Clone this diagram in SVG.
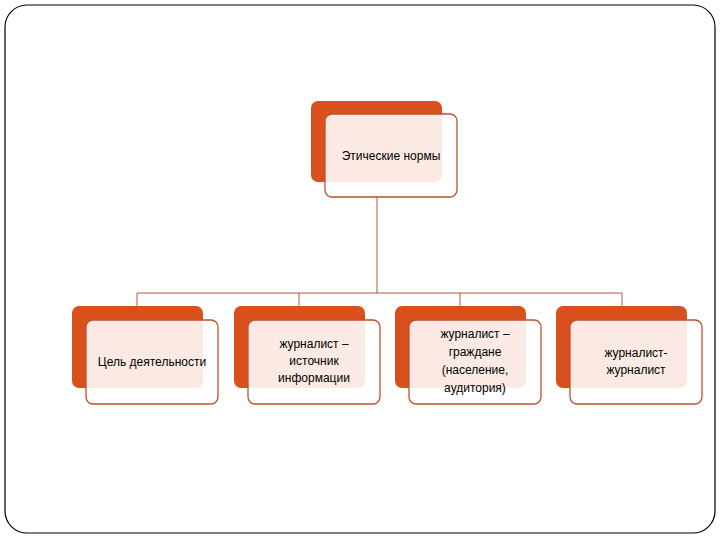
<svg xmlns="http://www.w3.org/2000/svg" width="720" height="540" viewBox="0 0 720 540">
<style>
.bg{fill:#d9501d}
.fg{fill:#fff;fill-opacity:0.88;stroke:#c0502d;stroke-width:1.3}
.fg2{fill:#fbe6de}
.t{font-family:"Liberation Sans",Arial,sans-serif;font-size:12px;fill:#000;text-anchor:middle}
.c{stroke:#b5563a;stroke-width:1;fill:none}
</style>
<rect x="5" y="5" width="710" height="528" rx="22" fill="#fff" stroke="#000" stroke-width="1.2"/>
<g id="connectors">
<path class="c" d="M377 197V293M137 293H622M137 293V306M299 293V306M460 293V306M622 293V306"/>
</g>
<g id="n0">
<rect class="bg" x="311" y="101" width="131" height="81" rx="7"/>
<rect class="fg" x="325" y="114" width="132" height="83" rx="7"/>
<text class="t" x="391" y="160">Этические нормы</text>
</g>
<g id="n1">
<rect class="bg" x="72" y="306" width="131" height="82" rx="7"/>
<rect class="fg" x="86" y="320" width="132" height="84" rx="7"/>
<text class="t" x="152" y="366">Цель деятельности</text>
</g>
<g id="n2">
<rect class="bg" x="234" y="306" width="131" height="82" rx="7"/>
<rect class="fg" x="248" y="320" width="132" height="84" rx="7"/>
<text class="t" x="314" y="348">журналист –</text>
<text class="t" x="314" y="365">источник</text>
<text class="t" x="314" y="382">информации</text>
</g>
<g id="n3">
<rect class="bg" x="395" y="306" width="131" height="82" rx="7"/>
<rect class="fg" x="409" y="320" width="132" height="84" rx="7"/>
<text class="t" x="475" y="338">журналист –</text>
<text class="t" x="475" y="356">граждане</text>
<text class="t" x="475" y="374">(население,</text>
<text class="t" x="475" y="392">аудитория)</text>
</g>
<g id="n4">
<rect class="bg" x="556" y="306" width="131" height="82" rx="7"/>
<rect class="fg" x="570" y="320" width="132" height="84" rx="7"/>
<text class="t" x="636" y="357">журналист-</text>
<text class="t" x="636" y="374">журналист</text>
</g>
</svg>
